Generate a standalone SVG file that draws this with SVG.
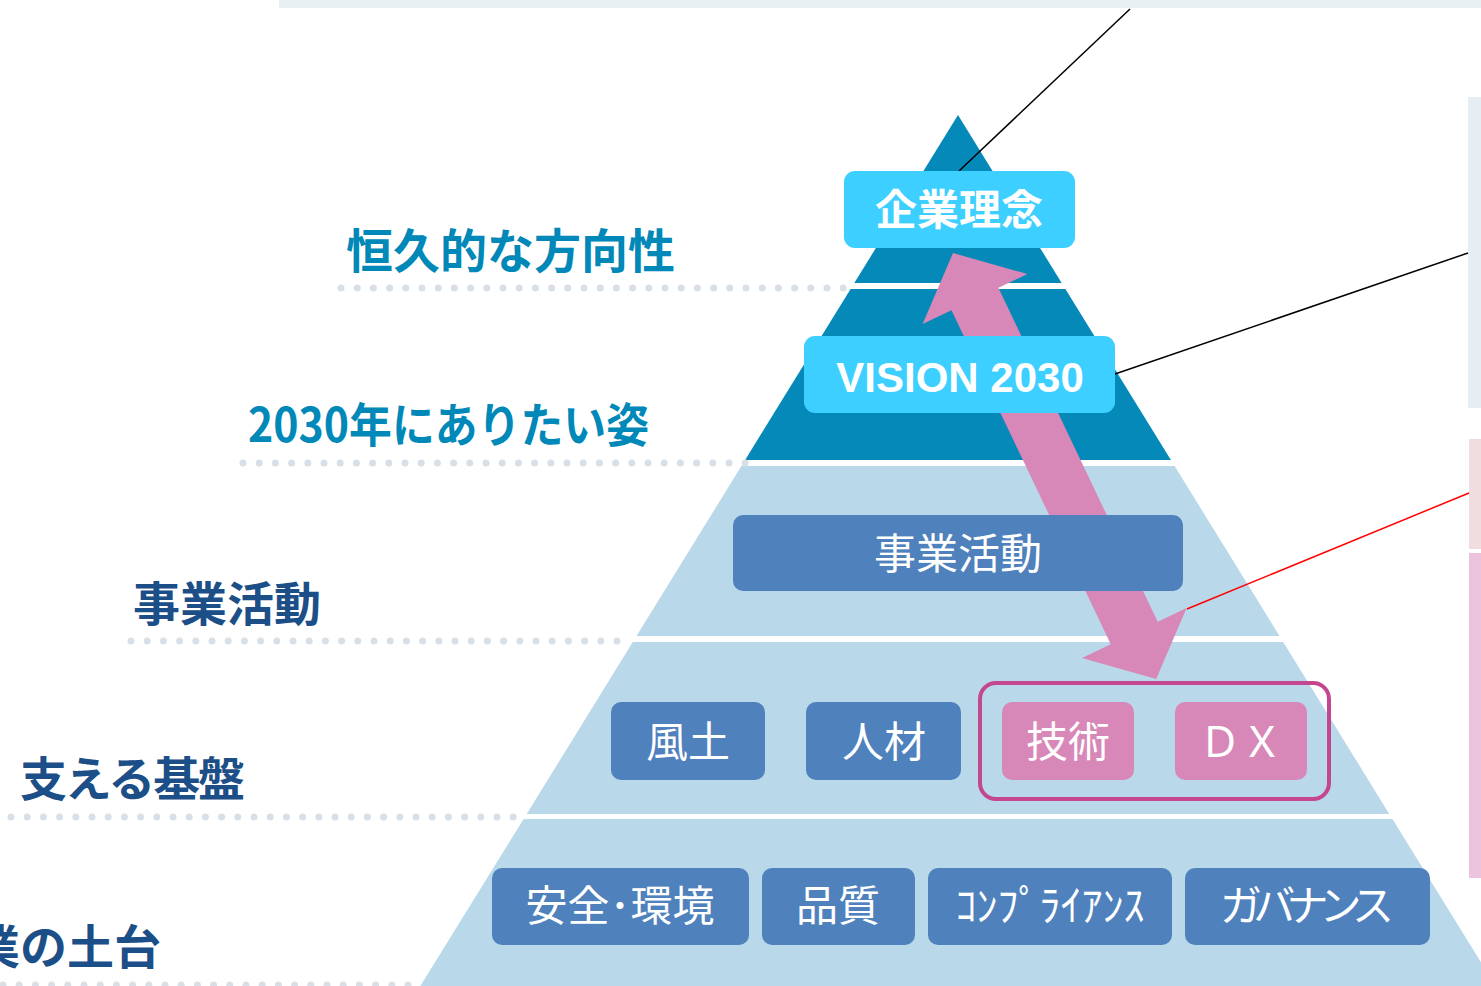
<svg xmlns="http://www.w3.org/2000/svg" width="1481" height="986" viewBox="0 0 1481 986">
<defs>
<style>
.dark{fill:#0489b8}
.light{fill:#b9d8ea}
.dots{stroke:#d8dfe7;stroke-width:7;stroke-linecap:round;stroke-dasharray:0 16.2;fill:none}
.lbl{font-family:"Noto Sans CJK JP","Noto Sans CJK SC",sans-serif;font-weight:700;font-size:47px}
.teal{fill:#0088b8}
.navy{fill:#1c4e88}
.cyanbox{fill:#3dcfff}
.bluebox{fill:#4f81bd}
.pinkbox{fill:#d888b8}
.bt{font-family:"Noto Sans CJK JP","Noto Sans CJK SC",sans-serif;font-size:42px;fill:#ffffff;text-anchor:middle}
.bold{font-weight:700}
.leader{stroke:#000000;stroke-width:1.5;fill:none}
</style>
</defs>
<rect id="topbar" x="279" y="0" width="1202" height="8" fill="#e8f0f4"/>
<g id="side-panels">
<rect x="1468" y="97" width="13" height="311" fill="#e6eef3"/>
<rect x="1469" y="439" width="12" height="110" fill="#f0dde0"/>
<rect x="1469" y="553" width="12" height="325" fill="#ecc3dc"/>
</g>
<g id="pyramid">
<polygon class="dark" points="958,115 1061.7,283 854.3,283"/>
<polygon class="dark" points="850.6,289 1065.4,289 1170.9,460 745.1,460"/>
<polygon class="light" points="741.4,466 1174.6,466 1279.5,636 636.5,636"/>
<polygon class="light" points="632.8,642 1283.2,642 1389.3,814 526.7,814"/>
<polygon class="light" points="523.6,819 1392.4,819 1500,993 416,993"/>
</g>
<g id="dotted-guides">
<line class="dots" x1="341" y1="288" x2="846" y2="288"/>
<line class="dots" x1="243" y1="463" x2="746" y2="463"/>
<line class="dots" x1="131" y1="641" x2="633" y2="641"/>
<line class="dots" x1="11" y1="817" x2="516" y2="817"/>
<line class="dots" x1="3" y1="985" x2="420" y2="985"/>
</g>
<g id="left-labels">
<text id="lbl-eternal" class="lbl teal" x="346" y="268">恒久的な方向性</text>
<text id="lbl-2030" class="lbl teal" x="248" y="442" textLength="401" lengthAdjust="spacingAndGlyphs">2030年にありたい姿</text>
<text id="lbl-business" class="lbl navy" x="133" y="621">事業活動</text>
<text id="lbl-base" class="lbl navy" x="20" y="796" textLength="225" lengthAdjust="spacing">支える基盤</text>
<text id="lbl-foundation" class="lbl navy" x="-27" y="964">業の土台</text>
</g>
<g id="connectors">
<polygon id="double-arrow" fill="#d888b8" transform="translate(953,253) rotate(64.5)" points="0,0 51,-58 51,-26 421,-26 421,-58 472,0 421,58 421,26 51,26 51,58"/>
<line class="leader" x1="1130" y1="9" x2="959" y2="171"/>
<line class="leader" x1="1115" y1="374" x2="1468" y2="253"/>
<line x1="1187" y1="609" x2="1469" y2="493" stroke="#ff0000" stroke-width="1.5"/>
</g>
<g id="node-philosophy">
<rect class="cyanbox" x="844" y="171" width="231" height="77" rx="11"/>
<text class="bt bold" x="959" y="225">企業理念</text>
</g>
<g id="node-vision">
<rect class="cyanbox" x="804" y="336" width="311" height="77" rx="11"/>
<text class="bt bold" x="960" y="392" style="font-family:'Liberation Sans',Arial,sans-serif">VISION 2030</text>
</g>
<g id="node-business">
<rect class="bluebox" x="733" y="515" width="450" height="76" rx="10"/>
<text class="bt" x="958" y="569">事業活動</text>
</g>
<g id="node-culture">
<rect class="bluebox" x="611" y="702" width="154" height="78" rx="10"/>
<text class="bt" x="688" y="757">風土</text>
</g>
<g id="node-people">
<rect class="bluebox" x="806" y="702" width="155" height="78" rx="10"/>
<text class="bt" x="884" y="757">人材</text>
</g>
<g id="node-group">
<rect x="980" y="683" width="349" height="116" rx="16" fill="none" stroke="#c4468f" stroke-width="4"/>
</g>
<g id="node-tech">
<rect class="pinkbox" x="1002" y="702" width="132" height="78" rx="10"/>
<text class="bt" x="1068" y="757">技術</text>
</g>
<g id="node-dx">
<rect class="pinkbox" x="1175" y="702" width="132" height="78" rx="10"/>
<text class="bt" x="1241" y="757">ＤＸ</text>
</g>
<g id="node-safety">
<rect class="bluebox" x="492" y="868" width="257" height="77" rx="10"/>
<text class="bt" x="620" y="921">安全･環境</text>
</g>
<g id="node-quality">
<rect class="bluebox" x="762" y="868" width="153" height="77" rx="10"/>
<text class="bt" x="838" y="921">品質</text>
</g>
<g id="node-compliance">
<rect class="bluebox" x="928" y="868" width="244" height="77" rx="10"/>
<text class="bt" x="1050" y="921">ｺﾝﾌﾟﾗｲｱﾝｽ</text>
</g>
<g id="node-governance">
<rect class="bluebox" x="1185" y="868" width="245" height="77" rx="10"/>
<text class="bt" x="1307" y="921" textLength="174" lengthAdjust="spacing">ガバナンス</text>
</g>
</svg>
